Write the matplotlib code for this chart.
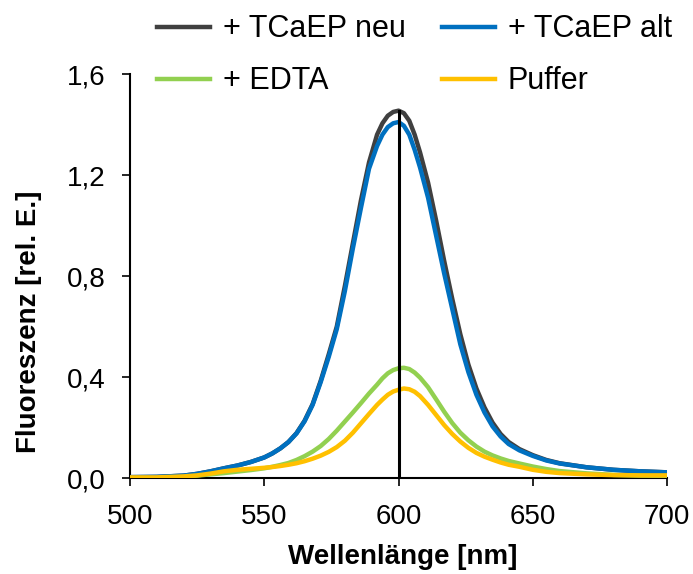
import matplotlib
matplotlib.use("Agg")
import matplotlib.pyplot as plt
from matplotlib.ticker import FuncFormatter

# wavelength grid (nm), denser around the peak
wavelength = [500, 510, 520, 525, 530, 535, 540, 545, 550, 553, 556, 559, 562, 565, 568,
              571, 574, 577, 580, 583, 586, 589, 592, 594, 596, 598, 600, 602, 604, 606,
              608, 611, 614, 617, 620, 623, 626, 629, 632, 635, 638, 641, 645, 650, 655,
              660, 670, 680, 690, 700]

tcaep_neu = [0.004, 0.005, 0.010, 0.017, 0.027, 0.039, 0.050, 0.064, 0.082, 0.098, 0.118,
             0.143, 0.178, 0.227, 0.293, 0.385, 0.490, 0.600, 0.760, 0.930, 1.100, 1.250,
             1.360, 1.405, 1.435, 1.450, 1.455, 1.445, 1.415, 1.360, 1.290, 1.170, 1.020,
             0.860, 0.710, 0.570, 0.450, 0.355, 0.280, 0.220, 0.175, 0.143, 0.115, 0.091,
             0.072, 0.059, 0.043, 0.033, 0.027, 0.023]

tcaep_alt = [0.004, 0.005, 0.010, 0.017, 0.027, 0.039, 0.050, 0.064, 0.082, 0.098, 0.118,
             0.143, 0.177, 0.225, 0.290, 0.380, 0.480, 0.590, 0.740, 0.910, 1.070, 1.225,
             1.315, 1.360, 1.390, 1.405, 1.410, 1.395, 1.360, 1.300, 1.230, 1.110, 0.960,
             0.810, 0.670, 0.530, 0.420, 0.330, 0.260, 0.205, 0.165, 0.135, 0.110, 0.088,
             0.070, 0.058, 0.043, 0.033, 0.027, 0.023]

edta = [0.003, 0.003, 0.006, 0.010, 0.015, 0.020, 0.026, 0.032, 0.039, 0.045, 0.052,
        0.060, 0.072, 0.087, 0.105, 0.127, 0.155, 0.188, 0.224, 0.260, 0.297, 0.335,
        0.370, 0.395, 0.415, 0.428, 0.435, 0.437, 0.432, 0.418, 0.398, 0.360, 0.312,
        0.263, 0.218, 0.180, 0.150, 0.125, 0.105, 0.090, 0.078, 0.068, 0.058, 0.046,
        0.036, 0.028, 0.019, 0.013, 0.010, 0.009]

puffer = [0.003, 0.003, 0.007, 0.011, 0.018, 0.027, 0.033, 0.037, 0.041, 0.044, 0.048,
          0.053, 0.059, 0.067, 0.077, 0.089, 0.104, 0.123, 0.148, 0.180, 0.217, 0.254,
          0.290, 0.311, 0.330, 0.343, 0.350, 0.355, 0.352, 0.342, 0.325, 0.290, 0.250,
          0.210, 0.175, 0.145, 0.120, 0.100, 0.085, 0.073, 0.062, 0.053, 0.045, 0.033,
          0.025, 0.020, 0.015, 0.012, 0.011, 0.011]

marker_x = 600
marker_top = 1.455

x_ticks = [500, 550, 600, 650, 700]
y_ticks = [0.0, 0.4, 0.8, 1.2, 1.6]

plt.rcParams['font.family'] = ['Liberation Sans', 'DejaVu Sans']

fig = plt.figure(figsize=(6.93, 5.74), dpi=100)
ax = fig.add_axes([0.1876, 0.167, 0.775, 0.704])

lw = 3.2
l_neu, = ax.plot(wavelength, tcaep_neu, color="#404040", lw=lw, label="+ TCaEP neu", zorder=3)
l_alt, = ax.plot(wavelength, tcaep_alt, color="#0070C0", lw=lw, label="+ TCaEP alt", zorder=4)
l_edta, = ax.plot(wavelength, edta, color="#92D050", lw=lw, label="+ EDTA", zorder=3)
l_puf, = ax.plot(wavelength, puffer, color="#FFC000", lw=lw, label="Puffer", zorder=4)
ax.plot([marker_x, marker_x], [0, marker_top], color="black", lw=2.2, zorder=5)

ax.set_xlim(500, 700)
ax.set_ylim(0, 1.6)
ax.set_xticks(x_ticks)
ax.set_yticks(y_ticks)
ax.yaxis.set_major_formatter(FuncFormatter(lambda v, p: f"{v:.1f}".replace(".", ",")))

for side in ["top", "right"]:
    ax.spines[side].set_visible(False)
for side in ["left", "bottom"]:
    ax.spines[side].set_linewidth(1.5)
ax.tick_params(direction="out", length=5.8, width=1.2, labelsize=20)
ax.tick_params(axis="x", pad=13)
ax.tick_params(axis="y", pad=12)

ax.set_xlabel("Wellenlänge [nm]", fontsize=20, fontweight="bold")
ax.set_ylabel("Fluoreszenz [rel. E.]", fontsize=20, fontweight="bold")
ax.xaxis.set_label_coords(0.508, -0.196)
ax.xaxis.label.set_va("center")
ax.yaxis.set_label_coords(-0.188, 0.386)
ax.yaxis.label.set_va("center")
ax.yaxis.label.set_ha("center")

# legend fills column-wise: neu/EDTA left, alt/Puffer right
fig.legend([l_neu, l_edta, l_alt, l_puf], ["+ TCaEP neu", "+ EDTA", "+ TCaEP alt", "Puffer"],
           loc="upper left", bbox_to_anchor=(0.2265, 0.975), ncol=2, frameon=False,
           fontsize=22, handlelength=1.73, handletextpad=0.42, columnspacing=1.2,
           labelspacing=0.72, borderpad=0, borderaxespad=0)

fig.savefig("out.png", dpi=100)
